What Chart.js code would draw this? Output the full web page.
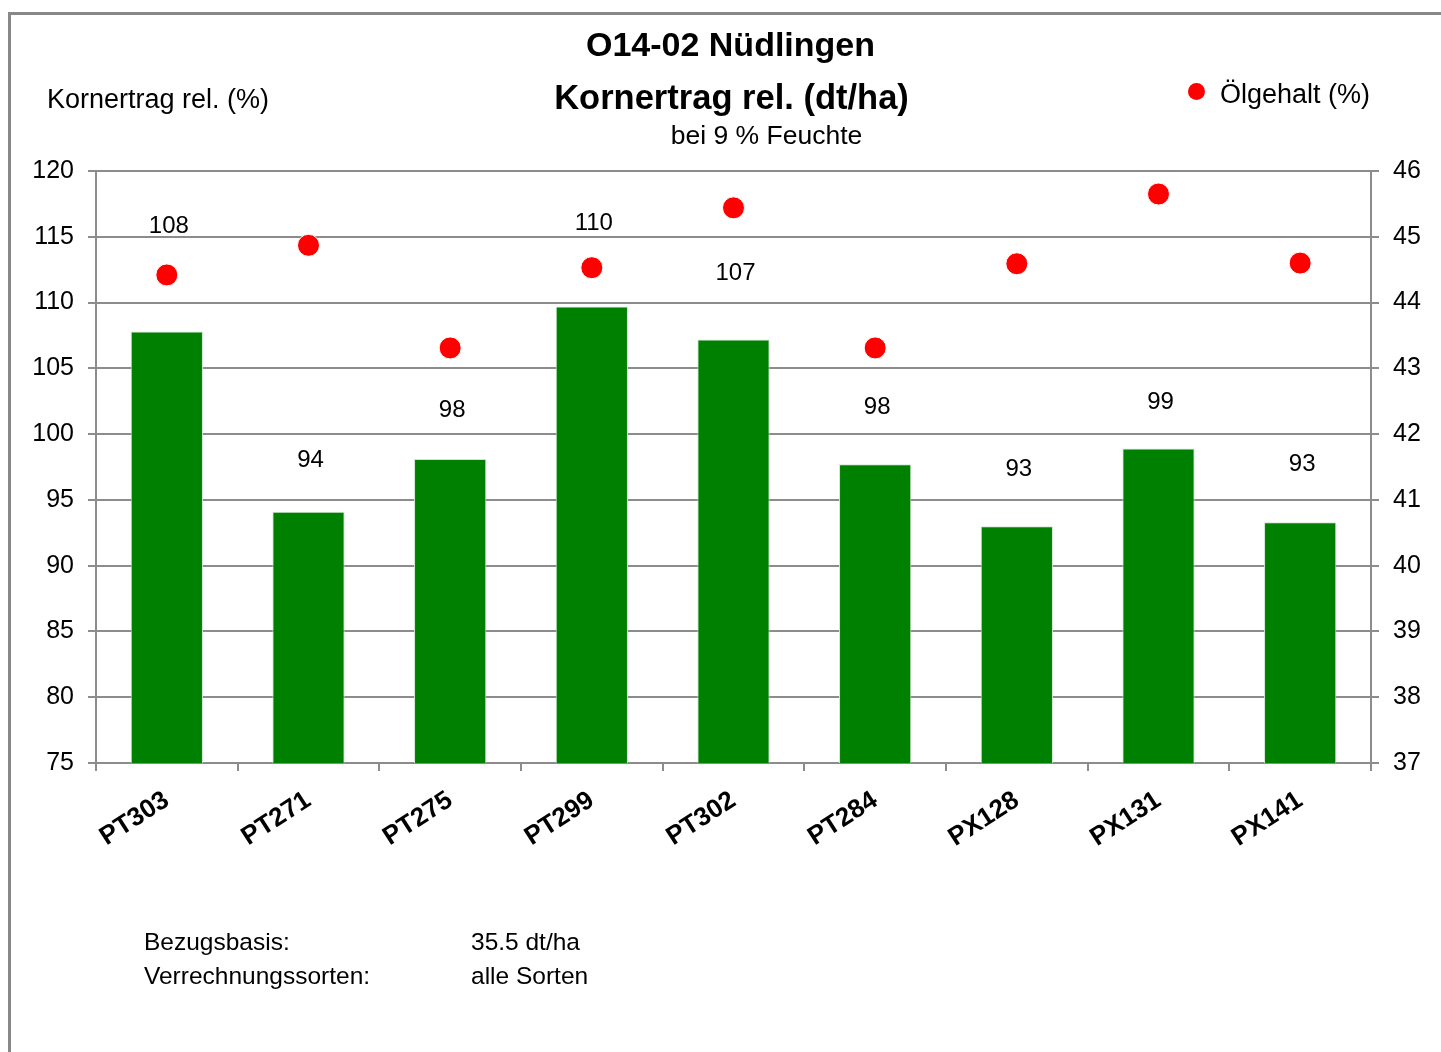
<!DOCTYPE html>
<html>
<head>
<meta charset="utf-8">
<script src="https://cdn.jsdelivr.net/npm/chart.js@4/dist/chart.umd.min.js"></script>
<style>
  body { margin: 0; background: #fff; font-family: "Liberation Sans", Arial, sans-serif; }
  #wrap { position: relative; width: 1441px; height: 1052px; overflow: hidden; }
  #frame { position: absolute; left: 8px; top: 12px; width: 1500px; height: 1100px; border-left: 3px solid #888; border-top: 3px solid #888; }
  canvas { position: absolute; left: 0; top: 0; }
  .t { position: absolute; white-space: nowrap; color: #000; }
</style>
</head>
<body>
<div id="wrap">
  <div id="frame"></div>
  <canvas id="chart" width="1441" height="1052"></canvas>
  <div class="t" style="left:0;width:1461px;text-align:center;top:25px;font-size:34px;font-weight:bold;">O14-02 Nüdlingen</div>
  <div class="t" style="left:0;width:1463px;text-align:center;top:78px;font-size:34.5px;font-weight:bold;">Kornertrag rel. (dt/ha)</div>
  <div class="t" style="left:0;width:1533px;text-align:center;top:120px;font-size:26.5px;">bei 9 % Feuchte</div>
  <div class="t" style="left:47px;top:84px;font-size:27px;">Kornertrag rel. (%)</div>
  <div class="t" style="left:1188px;top:83px;width:17px;height:17px;border-radius:50%;background:#ff0000;"></div>
  <div class="t" style="left:1220px;top:79px;font-size:27px;">Ölgehalt (%)</div>
  <div class="t" style="left:144px;top:928px;font-size:24.5px;">Bezugsbasis:</div>
  <div class="t" style="left:471px;top:928px;font-size:24.5px;">35.5 dt/ha</div>
  <div class="t" style="left:144px;top:962px;font-size:24.5px;">Verrechnungssorten:</div>
  <div class="t" style="left:471px;top:962px;font-size:24.5px;">alle Sorten</div>
</div>
<script>
const sorten = ['PT303', 'PT271', 'PT275', 'PT299', 'PT302', 'PT284', 'PX128', 'PX131', 'PX141'];
const kornertragRel = [107.8, 94.1, 98.1, 109.7, 107.2, 97.7, 93.0, 98.9, 93.3];
const kornertragLabels = ['108', '94', '98', '110', '107', '98', '93', '99', '93'];
// where Excel left the value labels (left axis units)
const labelPos = [115.8, 98.0, 101.8, 116.0, 112.2, 102.0, 97.3, 102.4, 97.7];
const oelgehalt = [44.42, 44.87, 43.31, 44.53, 45.44, 43.31, 44.59, 45.65, 44.60];

const font = 'Liberation Sans, Arial, sans-serif';
const gridGray = '#8c8c8c';

const valueLabels = {
  id: 'valueLabels',
  afterDatasetsDraw(chart) {
    const ctx = chart.ctx;
    const x = chart.scales.x, y = chart.scales.y;
    ctx.save();
    ctx.font = '24px ' + font;
    ctx.fillStyle = '#000';
    ctx.textAlign = 'center';
    ctx.textBaseline = 'middle';
    kornertragLabels.forEach((t, i) => {
      ctx.fillText(t, x.getPixelForValue(i) + 2, y.getPixelForValue(labelPos[i]));
    });
    ctx.restore();
  }
};

new Chart(document.getElementById('chart'), {
  type: 'bar',
  data: {
    labels: sorten,
    datasets: [
      {
        type: 'line',
        label: 'Ölgehalt (%)',
        data: oelgehalt,
        yAxisID: 'y2',
        showLine: false,
        pointRadius: 11,
        pointBackgroundColor: '#ff0000',
        pointBorderColor: '#ffffff',
        pointBorderWidth: 1,
        order: 0
      },
      {
        label: 'Kornertrag rel. (%)',
        data: kornertragRel,
        yAxisID: 'y',
        backgroundColor: '#008000',
        borderColor: '#cfe6cf',
        borderWidth: 1,
        barPercentage: 1,
        categoryPercentage: 0.51,
        order: 1
      }
    ]
  },
  options: {
    responsive: false,
    animation: false,
    layout: { padding: { top: 171, left: 0, right: 0, bottom: 0 } },
    plugins: { legend: { display: false }, tooltip: { enabled: false } },
    scales: {
      x: {
        offset: true,
        grid: { offset: true, drawOnChartArea: false, drawTicks: true, tickLength: 8, color: gridGray, lineWidth: 2 },
        border: { color: gridGray, width: 2 },
        ticks: { color: '#000', font: { family: font, size: 26, weight: 'bold' }, minRotation: 33, maxRotation: 33, padding: 14 },
        afterFit: s => { s.height = 289; }
      },
      y: {
        position: 'left',
        min: 75, max: 120,
        ticks: { stepSize: 5, color: '#000', font: { family: font, size: 25 }, padding: 14 },
        grid: { color: gridGray, lineWidth: 2, tickLength: 8 },
        border: { color: gridGray, width: 2 },
        afterFit: s => { s.width = 96; }
      },
      y2: {
        position: 'right',
        min: 37, max: 46,
        ticks: { stepSize: 1, color: '#000', font: { family: font, size: 25 }, padding: 14 },
        grid: { drawOnChartArea: false, color: gridGray, lineWidth: 2, tickLength: 8 },
        border: { color: gridGray, width: 2 },
        afterFit: s => { s.width = 70; }
      }
    }
  },
  plugins: [valueLabels]
});
</script>
</body>
</html>
